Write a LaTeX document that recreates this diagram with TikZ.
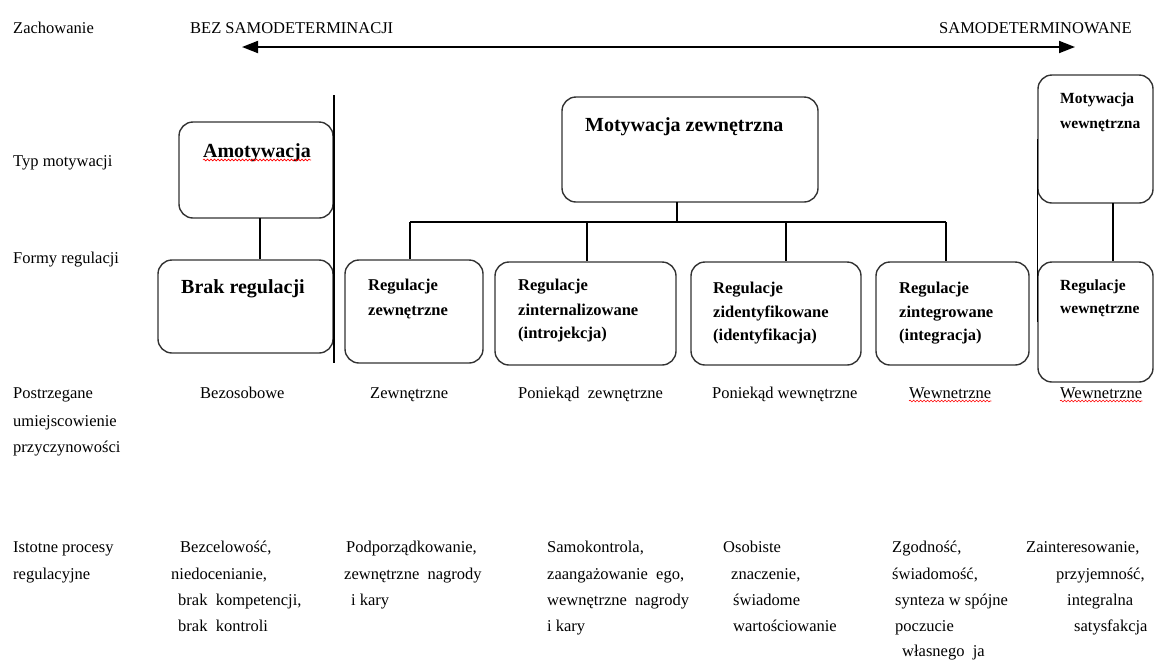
\documentclass[tikz,border=0pt]{standalone}
\usepackage{fontspec}
\setmainfont{Liberation Serif}
\usetikzlibrary{arrows.meta,decorations.pathmorphing}
\begin{document}
\begin{tikzpicture}[x=1pt,y=-1pt,
  box/.style={draw=black!80, line width=1.4pt, rounded corners=14pt, inner sep=0pt},
  conn/.style={draw=black, line width=1.2pt},
  txt/.style={inner sep=0pt, anchor=base west, font=\fontsize{16.5}{20}\selectfont},
  btxt/.style={inner sep=0pt, anchor=base west, font=\fontsize{16.5}{20}\selectfont\bfseries},
  stxt/.style={inner sep=0pt, anchor=base west, font=\fontsize{15.5}{20}\selectfont\bfseries},
  big/.style={inner sep=0pt, font=\fontsize{20}{24}\selectfont\bfseries},
  squig/.style={draw=red, line width=0.6pt, decorate, decoration={snake, amplitude=0.9pt, segment length=3.5pt}}
]
\useasboundingbox (0,0) rectangle (1154,662);

% boxes
\node[box, minimum width=154pt, minimum height=96pt] (amot) at (256,170) {};
\node[box, minimum width=175pt, minimum height=93pt] (brak) at (245.5,306.5) {};
\node[box, minimum width=138pt, minimum height=103pt] (rzew) at (414,311.5) {};
\node[box, minimum width=181pt, minimum height=103pt] (rint) at (585.5,313.5) {};
\node[box, minimum width=170pt, minimum height=103pt] (rid) at (776,313.5) {};
\node[box, minimum width=153pt, minimum height=103pt] (rintg) at (952.5,313.5) {};
\node[box, minimum width=256pt, minimum height=105pt] (mz) at (690,149.5) {};
\node[box, minimum width=115pt, minimum height=128pt] (mw) at (1095.5,139) {};
\node[box, minimum width=115pt, minimum height=120pt] (rw) at (1095.5,322) {};

% divider lines
\coordinate (vt) at (334,95);
\coordinate (vb) at (334,363);
\draw[conn] (vt) -- (vb);
\draw[conn] (mw.west) -- (rw.west);

% connectors
\coordinate (amc) at (260,218);
\draw[conn] (amc) -- (amc |- brak.north);
\coordinate (mws) at (1113,203);
\draw[conn] (mws) -- (mws |- rw.north);
\coordinate (mzs) at (677,202);
\coordinate (bar) at (677,222);
\draw[conn] (mzs) -- (bar);
\coordinate (d1) at (410,222);
\coordinate (d2) at (587,222);
\coordinate (d3) at (786,222);
\coordinate (d4) at (946,222);
\draw[conn] (d1) -- (d4);
\draw[conn] (d1) -- (d1 |- rzew.north);
\draw[conn] (d2) -- (d2 |- rint.north);
\draw[conn] (d3) -- (d3 |- rid.north);
\draw[conn] (d4) -- (d4 |- rintg.north);

% top arrow
\coordinate (al) at (242,47);
\coordinate (ar) at (1075,47);
\draw[line width=1.8pt, {Triangle[length=16pt,width=12pt]}-{Triangle[length=16pt,width=12pt]}] (al) -- (ar);

% box texts
\node[big, anchor=base] (amt) at (257,157) {Amotywacja};
\draw[squig] ([yshift=-3pt]amt.base west) -- ([yshift=-3pt]amt.base east);
\node[big, anchor=base] (brt) at (243,293) {Brak regulacji};
\node[big, anchor=base west] (mzt) at (585,131) {Motywacja zewnętrzna};

\node[btxt] (rzew1) at (368,290) {Regulacje};
\node[btxt] (rzew2) at (368,315) {zewnętrzne};
\node[btxt] (rint1) at (518,290) {Regulacje};
\node[btxt] (rint2) at (518,315) {zinternalizowane};
\node[btxt] (rint3) at (518,338) {(introjekcja)};
\node[btxt] (rid1) at (713,293) {Regulacje};
\node[btxt] (rid2) at (713,317) {zidentyfikowane};
\node[btxt] (rid3) at (713,340) {(identyfikacja)};
\node[btxt] (rig1) at (899,293) {Regulacje};
\node[btxt] (rig2) at (899,317) {zintegrowane};
\node[btxt] (rig3) at (899,340) {(integracja)};
\node[stxt] (mw1) at (1060,103) {Motywacja};
\node[stxt] (mw2) at (1060,128) {wewnętrzna};
\node[stxt] (rw1) at (1060,290) {Regulacje};
\node[stxt] (rw2) at (1060,313) {wewnętrzne};

% top row
\node[txt] (zach) at (13,33) {Zachowanie};
\node[txt] (bez) at (190,33) {BEZ SAMODETERMINACJI};
\node[txt] (samo) at (939,33) {SAMODETERMINOWANE};

% row labels
\node[txt] (typ) at (13,166) {Typ motywacji};
\node[txt] (formy) at (13,263) {Formy regulacji};
\node[txt] (post1) at (13,398) {Postrzegane};
\node[txt] (post2) at (13,426) {umiejscowienie};
\node[txt] (post3) at (13,452) {przyczynowości};

% locus row
\node[txt] (loc1) at (200,398) {Bezosobowe};
\node[txt] (loc2) at (370,398) {Zewnętrzne};
\node[txt] (loc3) at (518,398) {Poniekąd\ \ zewnętrzne};
\node[txt] (loc4) at (712,398) {Poniekąd wewnętrzne};
\node[txt] (loc5) at (909,398) {Wewnetrzne};
\node[txt] (loc6) at (1060,398) {Wewnetrzne};
\draw[squig] ([yshift=-3pt]loc5.base west) -- ([yshift=-3pt]loc5.base east);
\draw[squig] ([yshift=-3pt]loc6.base west) -- ([yshift=-3pt]loc6.base east);

% processes row
\node[txt] (ist1) at (13,552) {Istotne procesy};
\node[txt] (ist2) at (13,579) {regulacyjne};

\node[txt] (a1) at (180,552) {Bezcelowość,};
\node[txt] (a2) at (171,579) {niedocenianie,};
\node[txt] (a3) at (178,605) {brak\ \ kompetencji,};
\node[txt] (a4) at (178,631) {brak\ \ kontroli};

\node[txt] (b1) at (346,552) {Podporządkowanie,};
\node[txt] (b2) at (344,579) {zewnętrzne\ \ nagrody};
\node[txt] (b3) at (351,605) {i kary};

\node[txt] (c1) at (547,552) {Samokontrola,};
\node[txt] (c2) at (547,579) {zaangażowanie\ \ ego,};
\node[txt] (c3) at (547,605) {wewnętrzne\ \ nagrody};
\node[txt] (c4) at (547,631) {i kary};

\node[txt] (e1) at (723,552) {Osobiste};
\node[txt] (e2) at (731,579) {znaczenie,};
\node[txt] (e3) at (733,605) {świadome};
\node[txt] (e4) at (733,631) {wartościowanie};

\node[txt] (f1) at (892,552) {Zgodność,};
\node[txt] (f2) at (892,579) {świadomość,};
\node[txt] (f3) at (895,605) {synteza w spójne};
\node[txt] (f4) at (895,631) {poczucie};
\node[txt] (f5) at (902,656) {własnego\ \ ja};

\node[txt] (g1) at (1026,552) {Zainteresowanie,};
\node[txt] (g2) at (1056,579) {przyjemność,};
\node[txt] (g3) at (1067,605) {integralna};
\node[txt] (g4) at (1074,631) {satysfakcja};
\end{tikzpicture}
\end{document}
